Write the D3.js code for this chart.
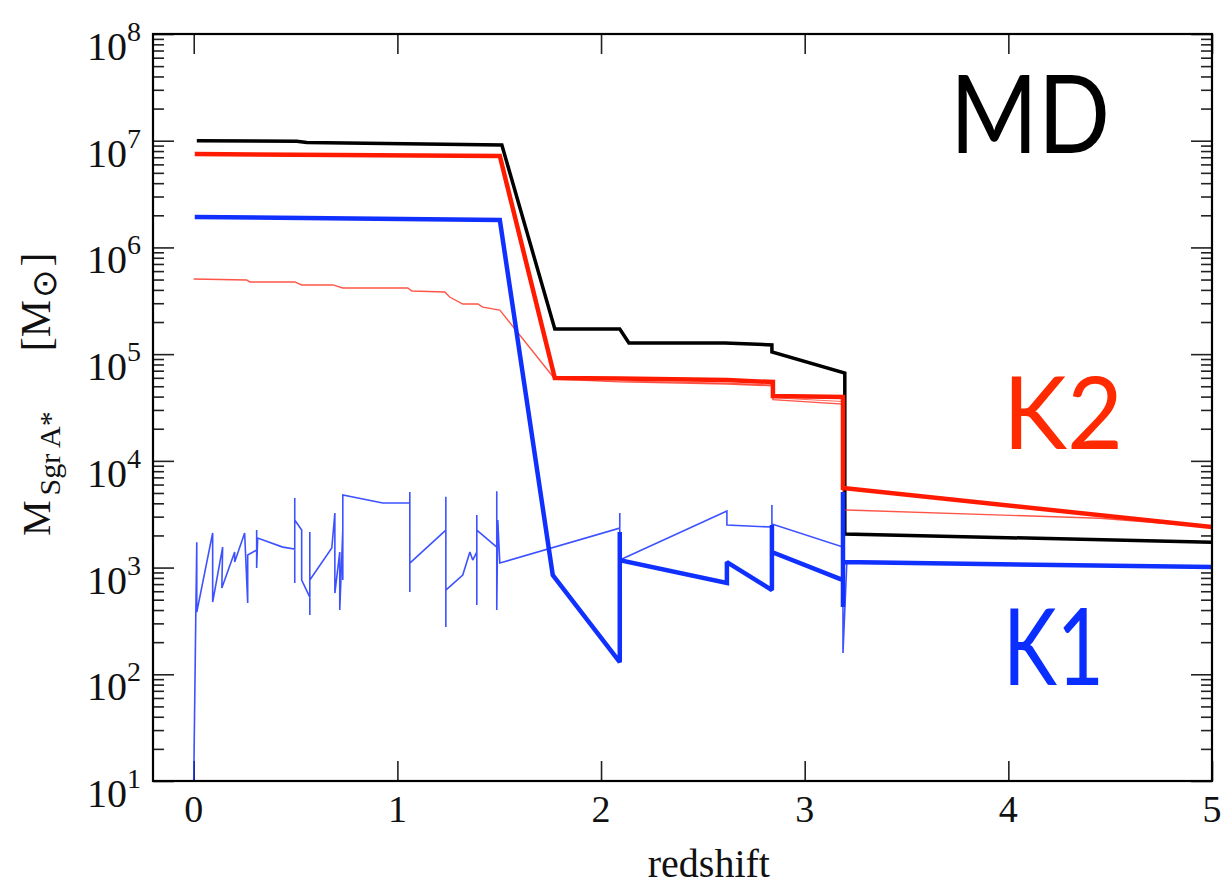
<!DOCTYPE html>
<html><head><meta charset="utf-8">
<script src="https://cdn.jsdelivr.net/npm/d3@7"></script>
<style>html,body{margin:0;padding:0;background:#fff;}</style>
</head><body>
<svg id="chart" width="1228" height="885"></svg>
<script>
// ---- data: [redshift, mass in solar masses] ----
const mdThick = [[0.015,1.0e7],[0.506,9.9e6],[0.555,9.6e6],[1.513,9.1e6],[1.773,1.72e5],[2.092,1.72e5],[2.137,1.27e5],[2.608,1.27e5],[2.839,1.22e5],[2.839,1.05e5],[3.197,6.65e4],[3.197,2.06e3],[5.0,1.73e3]];
const k2Thick = [[0.005,7.5e6],[1.503,7.2e6],[1.773,5.97e4],[2.092,5.9e4],[2.618,5.72e4],[2.844,5.48e4],[2.844,4.05e4],[3.188,3.96e4],[3.188,5.56e3],[5.0,2.4e3]];
const k2Thin = [[0.0,5.06e5],[0.26,4.95e5],[0.275,4.75e5],[0.496,4.75e5],[0.53,4.45e5],[0.683,4.45e5],[0.732,4.17e5],[1.051,4.17e5],[1.071,3.9e5],[1.233,3.82e5],[1.257,3.43e5],[1.321,2.95e5],[1.395,2.95e5],[1.419,2.76e5],[1.503,2.59e5],[1.773,5.85e4],[2.092,5.5e4],[2.618,5.25e4],[2.844,5.05e4],[2.844,3.75e4],[3.188,3.4e4],[3.188,3.46e3],[3.207,3.46e3],[4.45,2.9e3],[5.0,2.4e3]];
const k2ThinB = [[2.092,5.6e4],[2.618,5.35e4],[2.844,5.15e4],[2.844,3.9e4],[3.188,3.6e4]];
const k1Thick = [[0.005,1.93e6],[1.503,1.81e6],[1.763,851],[2.092,130],[2.092,2150],[2.092,1175],[2.618,716],[2.618,1125],[2.839,615],[2.839,2500],[2.839,1397],[3.188,764],[3.188,427],[3.188,5100],[3.188,1125],[5.0,1012]];
const k1Thin = [[0.0,10],[0.010,337],[0.015,1730],[0.015,383],[0.093,2110],[0.093,475],[0.142,1555],[0.138,643],[0.201,1397],[0.201,1127],[0.250,2110],[0.265,465],[0.265,1309],[0.309,1459],[0.309,2244],[0.309,989],[0.314,1892],[0.437,1555],[0.496,1490],[0.496,4478],[0.496,716],[0.496,2788],[0.530,2244],[0.530,764],[0.570,528],[0.570,2153],[0.570,359],[0.570,764],[0.678,1523],[0.693,3243],[0.693,577],[0.717,1397],[0.717,400],[0.732,2244],[0.732,764],[0.732,1397],[0.732,4786],[0.928,4027],[1.061,4027],[1.061,5105],[1.061,589],[1.061,1102],[1.238,2244],[1.238,4600],[1.238,277],[1.238,615],[1.321,851],[1.356,1397],[1.370,1175],[1.390,1397],[1.390,3105],[1.390,446],[1.390,2244],[1.488,1555],[1.488,5200],[1.488,400],[1.493,2788],[1.503,1102],[2.092,2344],[2.092,3243],[2.092,1175],[2.618,3388],[2.618,2500],[2.839,2399],[2.839,3855],[2.839,2559],[3.188,1555],[3.188,158],[3.207,1125],[5.0,1012]];
const xTicks = [0,1,2,3,4,5];
const yExponents = [1,2,3,4,5,6,7,8];
const labels = [
  {text:"MD", color:"#000000"},
  {text:"K2", color:"#ff2a00"},
  {text:"K1", color:"#0a2eff"}
];

// ---- layout ----
const L = 153, R = 1212, T = 34, B = 781;
const svg = d3.select("#chart");
const x = d3.scaleLinear().domain([-0.2, 5]).range([L, R]);
const y = d3.scaleLog().domain([10, 1e8]).range([B, T]);
const serif = "'Liberation Serif','Times New Roman',serif";

svg.append("defs").append("clipPath").attr("id","clip")
  .append("rect").attr("x",L).attr("y",T).attr("width",R-L).attr("height",B-T);

const majorY = yExponents.map(e => Math.pow(10,e));
const minorY = [];
yExponents.slice(0,-1).forEach(e => { for (let k=2;k<=9;k++) minorY.push(k*Math.pow(10,e)); });

function styleAxis(g){ g.select(".domain").remove(); g.selectAll("text").remove(); g.selectAll("line").attr("stroke","#222").attr("stroke-width",1.6); }
svg.append("g").attr("transform",`translate(${L},0)`).call(d3.axisLeft(y).tickValues(majorY).tickSizeInner(-21).tickSizeOuter(0)).call(styleAxis);
svg.append("g").attr("transform",`translate(${L},0)`).call(d3.axisLeft(y).tickValues(minorY).tickSizeInner(-11).tickSizeOuter(0)).call(styleAxis);
svg.append("g").attr("transform",`translate(${R},0)`).call(d3.axisRight(y).tickValues(majorY).tickSizeInner(-21).tickSizeOuter(0)).call(styleAxis);
svg.append("g").attr("transform",`translate(${R},0)`).call(d3.axisRight(y).tickValues(minorY).tickSizeInner(-11).tickSizeOuter(0)).call(styleAxis);
svg.append("g").attr("transform",`translate(0,${B})`).call(d3.axisBottom(x).tickValues(xTicks).tickSizeInner(-20).tickSizeOuter(0)).call(styleAxis);
svg.append("g").attr("transform",`translate(0,${T})`).call(d3.axisTop(x).tickValues(xTicks).tickSizeInner(-20).tickSizeOuter(0)).call(styleAxis);

// lines
const line = d3.line().x(d => x(d[0])).y(d => y(d[1]));
const gl = svg.append("g").attr("clip-path","url(#clip)").attr("fill","none").attr("stroke-linejoin","miter").attr("stroke-miterlimit",2);
gl.append("path").datum(mdThick).attr("d",line).attr("stroke","#000").attr("stroke-width",3.5);
gl.append("path").datum(k2Thin).attr("d",line).attr("stroke","#ff2a1a").attr("stroke-opacity",0.8).attr("stroke-width",1.4);
gl.append("path").datum(k2ThinB).attr("d",line).attr("stroke","#ff2a1a").attr("stroke-opacity",0.7).attr("stroke-width",1.2);
gl.append("path").datum(k2Thick).attr("d",line).attr("stroke","#ff1a00").attr("stroke-width",4.5);
gl.append("path").datum(k1Thin).attr("d",line).attr("stroke","#1a33ff").attr("stroke-opacity",0.85).attr("stroke-width",1.6);
gl.append("path").datum(k1Thick).attr("d",line).attr("stroke","#1030ff").attr("stroke-width",4.5);

// frame
svg.append("rect").attr("x",L).attr("y",T).attr("width",R-L).attr("height",B-T)
  .attr("fill","none").attr("stroke","#000").attr("stroke-width",2.2);

// y tick labels 10^n
yExponents.forEach(e => {
  const t = svg.append("text").attr("x",87).attr("y",y(Math.pow(10,e))+26)
    .attr("font-family",serif).attr("font-size",40).attr("fill","#111").text("10");
  t.append("tspan").attr("dy",-19).attr("font-size",28).text(e);
});
// x tick labels
svg.selectAll(".xl").data(xTicks).enter().append("text")
  .attr("x",d=>x(d)).attr("y",822).attr("text-anchor","middle")
  .attr("font-family",serif).attr("font-size",38).attr("fill","#111").text(d=>d);
// x axis title
svg.append("text").attr("x",(x(0)+x(5))/2+6).attr("y",877).attr("text-anchor","middle")
  .attr("font-family",serif).attr("font-size",40).attr("fill","#111").text("redshift");
// y axis title
const yt = svg.append("text").attr("transform","translate(50,536) rotate(-90)")
  .attr("font-family",serif).attr("font-size",40).attr("fill","#111");
yt.append("tspan").text("M");
yt.append("tspan").attr("dx",5).attr("dy",10).attr("font-size",30).text("Sgr A*");
yt.append("tspan").attr("dx",60).attr("dy",-10).attr("font-size",42).text("[M");
yt.append("tspan").attr("dx",2).attr("dy",6).attr("font-size",34).attr("font-family","'DejaVu Sans',sans-serif").text("\u2299");
yt.append("tspan").attr("dx",3).attr("dy",-6).attr("font-size",42).text("]");

// big labels
const bigPos = [{x:950,y:153,size:108,len:160},{x:1003,y:449,size:100,len:120},{x:1003,y:685,size:107,len:101}];
labels.forEach((lb,i) => {
  const p = bigPos[i];
  svg.append("text").attr("x",p.x).attr("y",p.y).attr("font-family","Lato,'Open Sans',sans-serif")
    .attr("font-size",p.size).attr("fill",lb.color)
    .attr("textLength",p.len).attr("lengthAdjust","spacingAndGlyphs").text(lb.text);
});
</script>
</body></html>
